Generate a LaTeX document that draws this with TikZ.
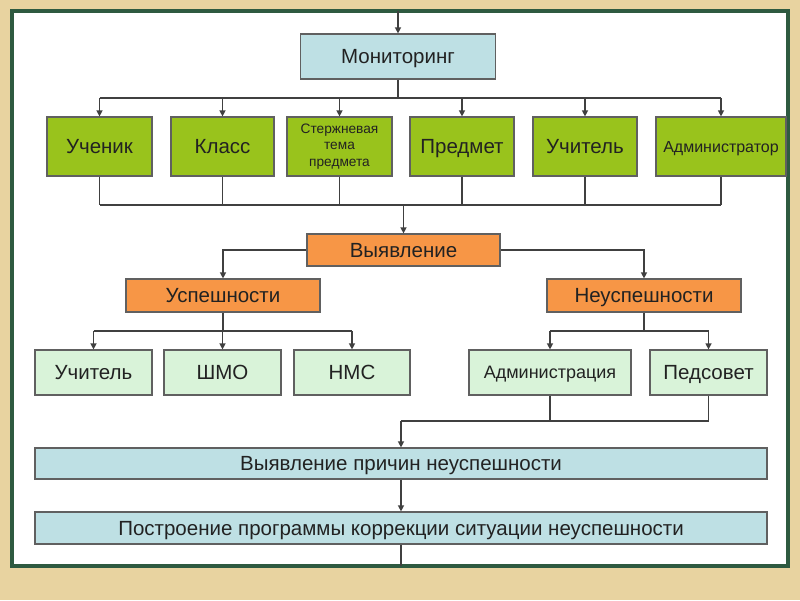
\documentclass[tikz,border=0pt]{standalone}
\usepackage{fontspec}
\setmainfont{Liberation Sans}
\usetikzlibrary{arrows.meta,calc}
\definecolor{bgc}{HTML}{E8D3A0}
\definecolor{framec}{HTML}{2E5A40}
\definecolor{lblue}{HTML}{BEE0E4}
\definecolor{gfill}{HTML}{99C31C}
\definecolor{ofill}{HTML}{F79646}
\definecolor{lgreen}{HTML}{D9F3D9}
\definecolor{boxline}{HTML}{606060}
\definecolor{linec}{HTML}{404040}
\definecolor{txt}{HTML}{222222}
\tikzset{
  box/.style={draw=boxline, line width=1.2pt, inner sep=0pt, text=txt,
    font=\fontsize{20.5}{24}\selectfont},
  single/.style={text height=#1, text depth=0pt},
  single/.default=14.7pt,
  bluebox/.style={box, single, fill=lblue},
  greenbox/.style={box, fill=gfill, minimum height=59pt},
  orangebox/.style={box, single, fill=ofill, minimum height=32pt},
  mintbox/.style={box, single, fill=lgreen, minimum height=45pt},
  conn/.style={draw=linec, line width=1.3pt},
  arr/.style={conn, -{Triangle[length=6pt,width=6pt]}}
}
\begin{document}
\begin{tikzpicture}[x=1pt,y=-1pt]
\fill[bgc] (0,0) rectangle (800,600);
\useasboundingbox (0,0) rectangle (800,600);
\draw[framec, line width=4pt, fill=white] (12,11) rectangle (788,566);

% nodes
\node[bluebox, minimum width=195pt, minimum height=45pt] (mon) at (398,56.5) {Мониторинг};

\node[greenbox, single, minimum width=105pt] (g1) at (99.5,146.5) {Ученик};
\node[greenbox, single, minimum width=103pt] (g2) at (222.5,146.5) {Класс};
\node[greenbox, minimum width=105pt, font=\fontsize{13.7}{16.7}\selectfont] (g3) at (339.5,146.5) {\begin{tabular}{@{}c@{}}Стержневая\\тема\\предмета\end{tabular}};
\node[greenbox, single, minimum width=104pt] (g4) at (462,146.5) {Предмет};
\node[greenbox, single, minimum width=104pt] (g5) at (585,146.5) {Учитель};
\node[greenbox, single=11.5pt, minimum width=130pt, font=\fontsize{16}{19}\selectfont] (g6) at (721,146.5) {Администратор};

\node[orangebox, minimum width=193pt] (vyav) at (403.5,250) {Выявление};
\node[orangebox, minimum width=194pt, minimum height=33pt] (usp) at (223,295.5) {Успешности};
\node[orangebox, minimum width=194pt, minimum height=33pt] (neusp) at (644,295.5) {Неуспешности};

\node[mintbox, minimum width=117pt] (l1) at (93.5,372.5) {Учитель};
\node[mintbox, minimum width=117pt] (l2) at (222.5,372.5) {ШМО};
\node[mintbox, minimum width=116pt] (l3) at (352,372.5) {НМС};
\node[mintbox, single=12.9pt, minimum width=162pt, font=\fontsize{18}{21}\selectfont] (l4) at (550,372.5) {Администрация};
\node[mintbox, minimum width=117pt] (l5) at (708.5,372.5) {Педсовет};

\node[bluebox, minimum width=732pt, minimum height=31pt] (b1) at (401,463.5) {Выявление причин неуспешности};
\node[bluebox, minimum width=732pt, minimum height=32pt] (b2) at (401,528) {Построение программы коррекции ситуации неуспешности};

% bus coordinates
\coordinate (top) at (398,11);
\coordinate (bot) at (401,566);
\coordinate (busA) at (0,98);
\coordinate (busB) at (0,205);
\coordinate (busC) at (0,331);
\coordinate (busD) at (0,421);

% connectors
\draw[arr] (top) -- (mon.north);
\draw[conn] (mon.south) -- (mon.south |- busA);
\draw[conn] (g1.north |- busA) -- (g6.north |- busA);
\foreach \g in {g1,g2,g3,g4,g5,g6}{
  \draw[arr] (\g.north |- busA) -- (\g.north);
  \draw[conn] (\g.south) -- (\g.south |- busB);
}
\draw[conn] (g1.south |- busB) -- (g6.south |- busB);
\draw[arr] (vyav.north |- busB) -- (vyav.north);

\draw[arr] (vyav.west) -| (usp.north);
\draw[arr] (vyav.east) -| (neusp.north);

\draw[conn] (usp.south) -- (usp.south |- busC);
\draw[conn] (l1.north |- busC) -- (l3.north |- busC);
\foreach \l in {l1,l2,l3}{ \draw[arr] (\l.north |- busC) -- (\l.north); }

\draw[conn] (neusp.south) -- (neusp.south |- busC);
\draw[conn] (l4.north |- busC) -- (l5.north |- busC);
\foreach \l in {l4,l5}{ \draw[arr] (\l.north |- busC) -- (\l.north); }

\draw[conn] (l4.south) -- (l4.south |- busD);
\draw[conn] (l5.south) -- (l5.south |- busD);
\draw[conn] (b1.north |- busD) -- (l5.south |- busD);
\draw[arr] (b1.north |- busD) -- (b1.north);

\draw[arr] (b1.south) -- (b2.north);
\draw[conn] (b2.south) -- (bot);
\end{tikzpicture}
\end{document}
